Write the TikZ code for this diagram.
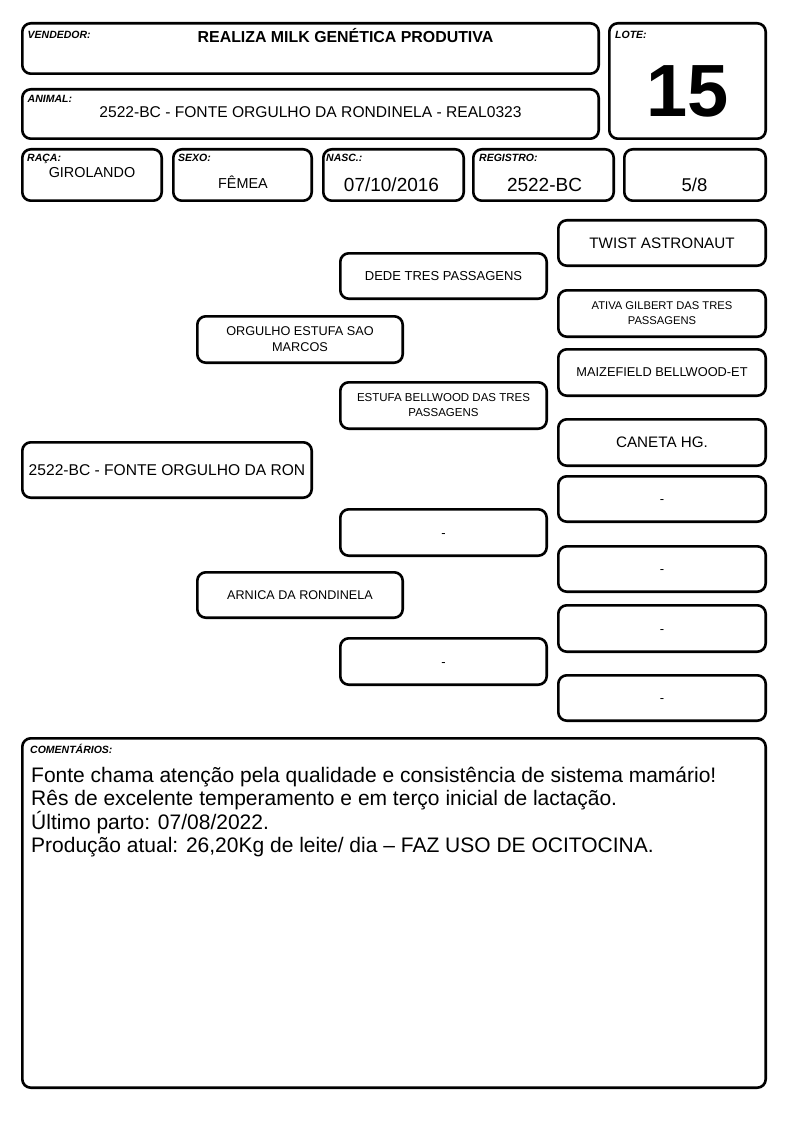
\documentclass[tikz,border=0pt]{standalone}
\usepackage{fontspec}
\setmainfont{Liberation Sans}
\newcommand\pbox[7][]{\node[box,#1,minimum width={#5-#3-2.6},minimum height={#6-#4-2.6}] (#2) at ({(#3+#5)/2},{(#4+#6)/2}) {#7};}
\newcommand\fs[2]{\fontsize{#1}{#2}\selectfont}
\begin{document}
\begin{tikzpicture}[x=1pt,y=-1pt,
  box/.style={draw=black,line width=2.6pt,rounded corners=8.5pt,inner sep=0pt,align=center,fill=white},
  dashbox/.style={font=\fs{13}{16},text height=9.3pt,text depth=0pt},
  lab/.style={font=\fs{10.5}{12}\bfseries\itshape,anchor=base west,inner sep=0pt},
  val/.style={anchor=base,inner sep=0pt}]
\useasboundingbox[fill=white] (0,0) rectangle (794,1123);
% header boxes
\pbox{vend}{21}{22}{600}{75}{}
\pbox{animal}{21}{88}{600}{140}{}
\pbox{lote}{608}{22}{767}{140}{}
\pbox{raca}{21}{148}{163}{202}{}
\pbox{sexo}{172}{148}{313}{202}{}
\pbox{nasc}{322}{148}{465}{202}{}
\pbox{reg}{472}{148}{615}{202}{}
\pbox{grau}{623}{148}{767}{202}{}
% header labels
\node[lab] (lvend) at (27.5,39) {VENDEDOR:};
\node[lab] (lanimal) at (27.5,102.5) {ANIMAL:};
\node[lab] (llote) at (615,39) {LOTE:};
\node[lab] (lraca) at (27,162) {RAÇA:};
\node[lab] (lsexo) at (178,162) {SEXO:};
\node[lab] (lnasc) at (326,162) {NASC.:};
\node[lab] (lreg) at (479,162) {REGISTRO:};
% header values
\node[val,font=\fs{15.9}{18}\bfseries] (tvend) at (345.5,43) {REALIZA MILK GENÉTICA PRODUTIVA};
\node[val,font=\fs{15.6}{18}] (tanimal) at (310.5,118) {2522-BC - FONTE ORGULHO DA RONDINELA - REAL0323};
\node[val,font=\fs{74}{80}\bfseries] (tlote) at (688,117) {15};
\node[val,font=\fs{14.4}{17}] (traca) at (92,178) {GIROLANDO};
\node[val,font=\fs{14.4}{17}] (tsexo) at (243,189) {FÊMEA};
\node[val,font=\fs{19}{22}] (tnasc) at (391.5,192) {07/10/2016};
\node[val,font=\fs{19}{22}] (treg) at (544.5,192) {2522-BC};
\node[val,font=\fs{18.5}{22}] (tgrau) at (694.5,192) {5/8};
% pedigree
\pbox[font=\fs{15.2}{18}]{twist}{557}{219}{767}{267}{TWIST ASTRONAUT}
\pbox[font=\fs{13}{16}]{dede}{339}{252}{548}{300}{DEDE TRES PASSAGENS}
\pbox[font=\fs{11.2}{15}]{ativa}{557}{289}{767}{338}{ATIVA GILBERT DAS TRES\\PASSAGENS}
\pbox[font=\fs{12.7}{16}]{orgulho}{196}{315}{404}{364}{ORGULHO ESTUFA SAO\\MARCOS}
\pbox[font=\fs{12.8}{16}]{maize}{557}{348}{767}{397}{MAIZEFIELD BELLWOOD-ET}
\pbox[font=\fs{11.5}{15}]{estufa}{339}{381}{548}{430}{ESTUFA BELLWOOD DAS TRES\\PASSAGENS}
\pbox[font=\fs{15.2}{18}]{caneta}{557}{418}{767}{467}{CANETA HG.}
\pbox[font=\fs{15.6}{18}]{main}{21}{441}{313}{499}{2522-BC - FONTE ORGULHO DA RON}
\pbox[dashbox]{mfive}{557}{475}{767}{523}{-}
\pbox[dashbox]{fthree}{339}{508}{548}{557}{-}
\pbox[dashbox]{msix}{557}{545}{767}{593}{-}
\pbox[font=\fs{12.6}{16}]{arnica}{196}{571}{404}{619}{ARNICA DA RONDINELA}
\pbox[dashbox]{mseven}{557}{604}{767}{653}{-}
\pbox[dashbox]{ffour}{339}{637}{548}{686}{-}
\pbox[dashbox]{meight}{557}{674}{767}{722}{-}
% comments
\pbox{coment}{21}{737}{767}{1089}{}
\node[lab] (lcoment) at (30,753) {COMENTÁRIOS:};
\node[anchor=base west,inner sep=0pt,font=\fs{21}{24}] (c1) at (31,782) {Fonte chama atenção pela qualidade e consistência de sistema mamário!};
\node[anchor=base west,inner sep=0pt,font=\fs{21}{24}] (c2) at (31,805.5) {Rês de excelente temperamento e em terço inicial de lactação.};
\node[anchor=base west,inner sep=0pt,font=\fs{21}{24}] (c3) at (31,829) {Último parto: 07/08/2022.};
\node[anchor=base west,inner sep=0pt,font=\fs{21}{24}] (c4) at (31,852.5) {Produção atual: 26,20Kg de leite/ dia – FAZ USO DE OCITOCINA.};
\end{tikzpicture}
\end{document}
